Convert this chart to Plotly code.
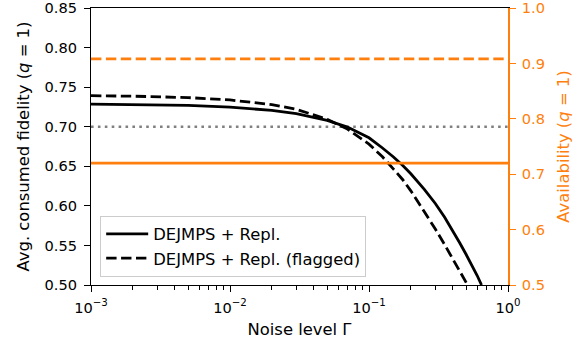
import plotly.graph_objects as go

# Noise level grid (x) and read-off fidelity values
gamma_repl = [0.001, 0.002, 0.005, 0.01, 0.02, 0.03, 0.05, 0.07, 0.1, 0.125, 0.15, 0.175, 0.2,
              0.25, 0.3, 0.35, 0.4, 0.45, 0.5, 0.55, 0.6, 0.645]
fid_repl = [0.7286, 0.7282, 0.7269, 0.7248, 0.7206, 0.7164, 0.7080, 0.6995, 0.6860, 0.6731,
            0.6618, 0.6509, 0.6405, 0.6209, 0.6030, 0.5855, 0.5690, 0.5530, 0.5385, 0.5250,
            0.5120, 0.5000]
gamma_flag = [0.001, 0.002, 0.005, 0.01, 0.02, 0.03, 0.05, 0.07, 0.1, 0.125, 0.15, 0.175, 0.2,
              0.25, 0.3, 0.35, 0.4, 0.45, 0.512]
fid_flag = [0.7392, 0.7386, 0.7368, 0.7338, 0.7280, 0.7220, 0.7095, 0.6970, 0.6780, 0.6620,
            0.6465, 0.6330, 0.6190, 0.5929, 0.5708, 0.5510, 0.5335, 0.5177, 0.5000]

# Threshold fidelity and availabilities (right axis)
fid_threshold = 0.70
avail_repl = 0.72
avail_flag = 0.908
x_span = [0.001, 1.0]

xtick_vals = [0.001, 0.01, 0.1, 1]
xtick_text = ["10<sup>−3</sup>", "10<sup>−2</sup>", "10<sup>−1</sup>", "10<sup>0</sup>"]
xminor_vals = [m * d for d in (0.001, 0.01, 0.1) for m in range(2, 10)]
ytick_vals = [0.50, 0.55, 0.60, 0.65, 0.70, 0.75, 0.80, 0.85]
y2tick_vals = [0.5, 0.6, 0.7, 0.8, 0.9, 1.0]

ORANGE = "#ff7f0e"
FONT = "DejaVu Sans"
FS_TICK = 14.6
FS_LAB = 16.4
FS_LEG = 16.4

fig = go.Figure()

fig.add_trace(go.Scatter(x=x_span, y=[fid_threshold] * 2, mode="lines",
                         line=dict(color="#808080", width=2.6, dash="2.6px,4.3px"),
                         showlegend=False, hoverinfo="skip"))
fig.add_trace(go.Scatter(x=x_span, y=[avail_repl] * 2, mode="lines", yaxis="y2",
                         line=dict(color=ORANGE, width=2.8), showlegend=False))
fig.add_trace(go.Scatter(x=x_span, y=[avail_flag] * 2, mode="lines", yaxis="y2",
                         line=dict(color=ORANGE, width=2.8, dash="10.4px,4.5px"), showlegend=False))
fig.add_trace(go.Scatter(x=gamma_repl, y=fid_repl, mode="lines", name="DEJMPS + Repl.",
                         line=dict(color="black", width=2.8)))
fig.add_trace(go.Scatter(x=gamma_flag, y=fid_flag, mode="lines", name="DEJMPS + Repl. (flagged)",
                         line=dict(color="black", width=2.8, dash="10.4px,4.5px")))

fig.update_layout(
    width=586, height=347,
    margin=dict(l=91, r=78, t=8, b=62),
    paper_bgcolor="white", plot_bgcolor="white",
    font=dict(family=FONT, size=FS_TICK, color="black"),
    xaxis=dict(
        type="log", range=[-3, 0], automargin=False,
        tickvals=xtick_vals, ticktext=xtick_text, tickfont=dict(size=FS_TICK),
        ticks="outside", ticklen=6, tickwidth=1.1, tickcolor="black",
        ticklabelstandoff=3,
        showline=True, linecolor="black", linewidth=1.1, mirror=True,
        showgrid=False, zeroline=False,
        minor=dict(tickvals=xminor_vals, ticks="outside", ticklen=3.5, tickwidth=0.9,
                   tickcolor="black", showgrid=False),
        title=dict(text="Noise level Γ", font=dict(size=FS_LAB), standoff=8),
    ),
    yaxis=dict(
        range=[0.5, 0.85], automargin=False,
        tickvals=ytick_vals, ticktext=["%.2f" % v for v in ytick_vals],
        tickfont=dict(size=FS_TICK), ticklabeloverflow="allow",
        ticks="outside", ticklen=6, tickwidth=1.1, tickcolor="black",
        ticklabelstandoff=4,
        showline=True, linecolor="black", linewidth=1.1,
        showgrid=False, zeroline=False,
        title=dict(text="Avg. consumed fidelity (<i>q</i> = 1)", font=dict(size=FS_LAB), standoff=10),
    ),
    yaxis2=dict(
        range=[0.5, 1.0], automargin=False,
        tickvals=y2tick_vals, ticktext=["%.1f" % v for v in y2tick_vals],
        overlaying="y", side="right", ticklabeloverflow="allow",
        ticks="outside", ticklen=6, tickwidth=1.1, tickcolor=ORANGE,
        ticklabelstandoff=3,
        tickfont=dict(color=ORANGE, size=FS_TICK),
        showline=True, linecolor=ORANGE, linewidth=1.8,
        showgrid=False, zeroline=False,
        title=dict(text="Availability (<i>q</i> = 1)", font=dict(size=FS_LAB, color=ORANGE), standoff=13),
    ),
    legend=dict(
        x=0.022, y=0.03, xanchor="left", yanchor="bottom",
        bgcolor="rgba(255,255,255,0.8)", bordercolor="#cccccc", borderwidth=1,
        font=dict(size=FS_LEG), itemwidth=42,
    ),
)

fig.write_html("out.html")
